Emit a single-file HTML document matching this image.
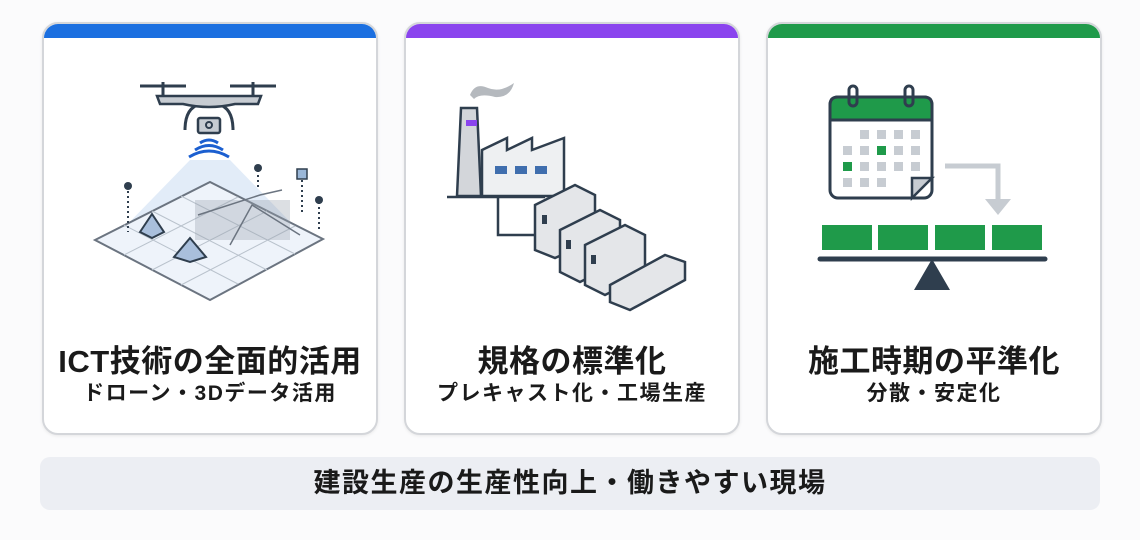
<!DOCTYPE html>
<html><head><meta charset="utf-8"><style>
body{margin:0;width:1140px;height:540px;background:#fbfbfc;font-family:"Liberation Sans","Noto Sans CJK JP",sans-serif;position:relative;overflow:hidden}
.card{position:absolute;top:22px;width:332px;height:409px;background:#fff;border:2px solid #d4d6da;border-radius:16px;overflow:hidden;box-shadow:0 1px 3px rgba(0,0,0,.08)}
.bar{height:14px}
.t{position:absolute;left:0;right:0;top:312px;text-align:center;font-weight:bold;font-size:31px;color:#1a1a1a;letter-spacing:0.5px;white-space:nowrap}
.s{position:absolute;left:0;right:0;top:353px;text-align:center;font-weight:bold;font-size:21px;color:#1a1a1a;letter-spacing:1.5px;white-space:nowrap}
svg{position:absolute;left:0;top:0}
.ban{position:absolute;left:40px;top:457px;width:1060px;height:53px;background:#eceef3;border-radius:10px;text-align:center;line-height:53px;font-weight:bold;font-size:27px;letter-spacing:1.5px;color:#1a1a1a}
</style></head><body>
<div class="card" style="left:42px"><div class="bar" style="background:#1b6fe0"></div>
<div class="t">ICT技術の全面的活用</div><div class="s">ドローン・3Dデータ活用</div></div>
<div class="card" style="left:404px"><div class="bar" style="background:#8a44ee"></div>
<div class="t">規格の標準化</div><div class="s">プレキャスト化・工場生産</div></div>
<div class="card" style="left:766px"><div class="bar" style="background:#1f9a4a"></div>
<div class="t">施工時期の平準化</div><div class="s">分散・安定化</div></div>
<div class="ban">建設生産の生産性向上・働きやすい現場</div>
<svg width="1140" height="540">
<polygon points="190,160 230,160 300,232 120,232" fill="#cfe0f4" opacity=".6"/>
<polygon points="95,240 210,182 323,239 210,300" fill="#eef3fa" stroke="#6b7480" stroke-width="2"/>
<g stroke="#b9c2cc" stroke-width="1">
<line x1="124" y1="225" x2="238" y2="284"/><line x1="152" y1="211" x2="267" y2="270"/><line x1="181" y1="196" x2="295" y2="254"/>
<line x1="124" y1="255" x2="238" y2="197"/><line x1="152" y1="270" x2="267" y2="211"/><line x1="181" y1="285" x2="295" y2="226"/>
</g>
<g fill="#9aa3ae"><rect x="195" y="200" width="95" height="40" opacity=".35"/></g>
<polyline points="198,215 260,195 282,190" fill="none" stroke="#6b7480" stroke-width="1.5"/>
<polyline points="230,245 252,205 300,235" fill="none" stroke="#6b7480" stroke-width="1.5"/>
<polygon points="140,232 152,214 164,232 152,238" fill="#a9bfdc" stroke="#2f3e4e" stroke-width="2"/>
<polygon points="174,257 190,238 206,257 190,262" fill="#a9bfdc" stroke="#2f3e4e" stroke-width="2"/>
<g stroke="#2f3e4e" stroke-width="2" stroke-dasharray="2,3"><line x1="128" y1="186" x2="128" y2="232"/><line x1="258" y1="170" x2="258" y2="190"/><line x1="302" y1="180" x2="302" y2="215"/><line x1="319" y1="202" x2="319" y2="232"/></g>
<g fill="#2f3e4e"><circle cx="128" cy="186" r="4"/><circle cx="258" cy="168" r="4"/><circle cx="319" cy="200" r="4"/></g>
<rect x="297" y="169" width="10" height="10" fill="#9ab7d8" stroke="#2f3e4e" stroke-width="1.5"/>
<g fill="none" stroke="#1b5fd0" stroke-width="3"><path d="M200,143 Q209,137 218,143"/><path d="M195,150 Q209,141 223,150"/><path d="M189,157 Q209,145 229,157"/></g>
<g stroke="#2f3e4e" stroke-width="3" fill="none"><line x1="140" y1="86" x2="186" y2="86"/><line x1="230" y1="86" x2="276" y2="86"/>
<path d="M185,130 Q185,108 200,104"/><path d="M233,130 Q233,108 218,104"/></g>
<line x1="163" y1="82" x2="163" y2="96" stroke="#2f3e4e" stroke-width="3"/><line x1="253" y1="82" x2="253" y2="96" stroke="#2f3e4e" stroke-width="3"/>
<path d="M157,96 L261,96 L258,104 L235,104 Q209,110 183,104 L160,104Z" fill="#c7ccd2" stroke="#2f3e4e" stroke-width="2.5"/>
<rect x="198" y="118" width="22" height="15" rx="2" fill="#c7ccd2" stroke="#2f3e4e" stroke-width="2.5"/><circle cx="209" cy="125" r="3" fill="none" stroke="#2f3e4e" stroke-width="2"/>
<path d="M470,95 Q475,82 488,88 Q500,93 514,83 Q510,98 495,97 Q480,93 474,99Z" fill="#b5b9be"/>
<polygon points="461,108 477,108 481,196 457,196" fill="#d3d6da" stroke="#2f3e4e" stroke-width="2.5"/>
<rect x="466" y="120" width="11" height="6" fill="#8a44ee"/>
<polygon points="482,150 507,138 507,150 532,138 532,150 564,138 564,196 482,196" fill="#eef0f2" stroke="#2f3e4e" stroke-width="2.5"/>
<g fill="#3f6eae"><rect x="495" y="166" width="12" height="8"/><rect x="515" y="166" width="12" height="8"/><rect x="535" y="166" width="12" height="8"/></g>
<line x1="447" y1="197" x2="545" y2="197" stroke="#2f3e4e" stroke-width="2.5"/>
<polyline points="498,197 498,235 535,235" fill="none" stroke="#2f3e4e" stroke-width="2.5"/>
<g stroke="#2f3e4e" stroke-width="2.5" fill="#e4e6e9">
<polygon points="535,205 575,185 595,195 595,240 555,258 535,250"/>
<polygon points="560,230 600,210 620,220 620,262 580,282 560,272"/>
<polygon points="585,245 625,225 645,235 645,275 605,295 585,285"/>
<polygon points="610,285 665,255 685,262 685,280 630,310 610,302"/>
</g>
<g fill="#2f3e4e"><rect x="542" y="215" width="5" height="9"/><rect x="566" y="240" width="5" height="9"/><rect x="591" y="255" width="5" height="9"/></g>
<rect x="830" y="97" width="102" height="101" rx="8" fill="#fff" stroke="#2f3e4e" stroke-width="3"/>
<path d="M830,120 L830,105 Q830,97 838,97 L924,97 Q932,97 932,105 L932,120Z" fill="#1f9a4a" stroke="#2f3e4e" stroke-width="3"/>
<path d="M912,198 L932,178 L912,178Z" fill="#c7ccd2" stroke="#2f3e4e" stroke-width="2.5"/>
<g fill="none" stroke="#2f3e4e" stroke-width="3"><rect x="849" y="86" width="8" height="20" rx="4"/><rect x="905" y="86" width="8" height="20" rx="4"/></g>
<g fill="#c7ccd2">
<rect x="860" y="130" width="9" height="9"/><rect x="877" y="130" width="9" height="9"/><rect x="894" y="130" width="9" height="9"/><rect x="911" y="130" width="9" height="9"/>
<rect x="843" y="146" width="9" height="9"/><rect x="860" y="146" width="9" height="9"/><rect x="894" y="146" width="9" height="9"/><rect x="911" y="146" width="9" height="9"/>
<rect x="860" y="162" width="9" height="9"/><rect x="877" y="162" width="9" height="9"/><rect x="894" y="162" width="9" height="9"/><rect x="911" y="162" width="9" height="9"/>
<rect x="843" y="178" width="9" height="9"/><rect x="860" y="178" width="9" height="9"/><rect x="877" y="178" width="9" height="9"/>
</g>
<g fill="#1f9a4a"><rect x="877" y="146" width="9" height="9"/><rect x="843" y="162" width="9" height="9"/></g>
<polyline points="945,166 998,166 998,200" fill="none" stroke="#c7ccd2" stroke-width="5"/>
<polygon points="985,199 1011,199 998,215" fill="#c7ccd2"/>
<g fill="#1f9a4a"><rect x="822" y="225" width="50" height="25"/><rect x="878" y="225" width="50" height="25"/><rect x="935" y="225" width="50" height="25"/><rect x="992" y="225" width="50" height="25"/></g>
<line x1="820" y1="259" x2="1045" y2="259" stroke="#2f3e4e" stroke-width="5" stroke-linecap="round"/>
<polygon points="932,259 950,290 914,290" fill="#2f3e4e"/>
</svg>
</body></html>
